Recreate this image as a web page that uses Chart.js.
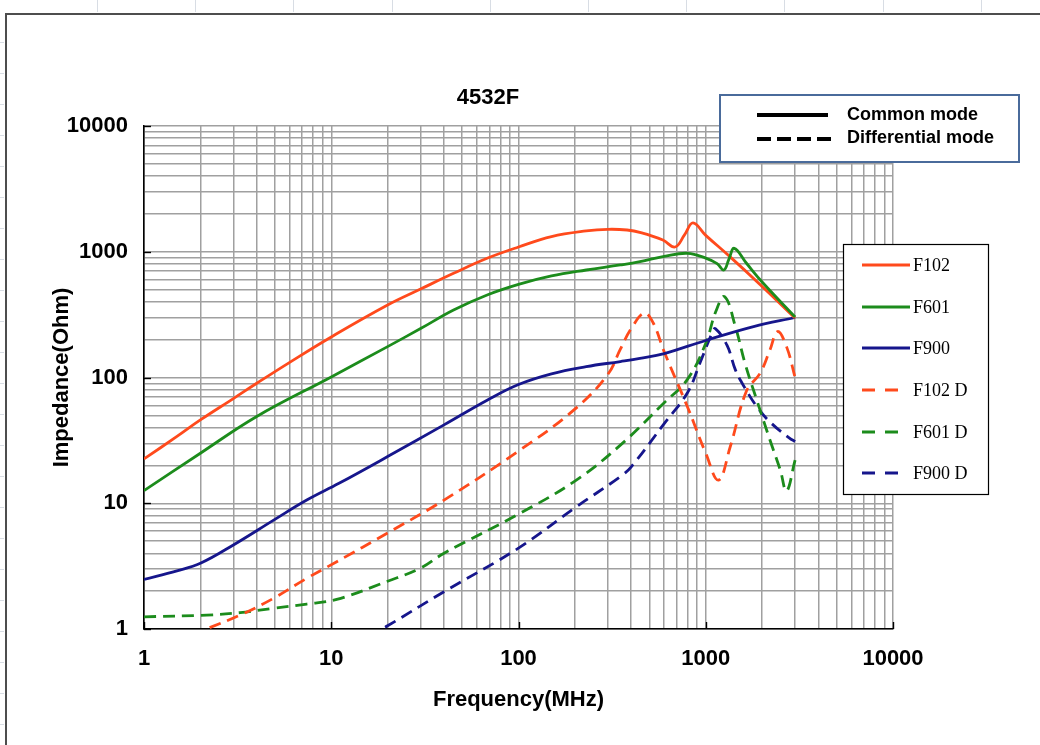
<!DOCTYPE html>
<html><head><meta charset="utf-8">
<script src="https://cdn.jsdelivr.net/npm/chart.js@4.4.0/dist/chart.umd.min.js"></script>
<style>html,body{margin:0;padding:0;background:#fff;overflow:hidden}canvas{display:block}</style>
</head><body>
<canvas id="c" width="1040" height="745"></canvas>
<script>
// ---- text ----
const chartTitle = '4532F';
const xAxisTitle = 'Frequency(MHz)';
const yAxisTitle = 'Impedance(Ohm)';
const modeLegend = ['Common mode', 'Differential mode'];
const seriesNames = ['F102', 'F601', 'F900', 'F102 D', 'F601 D', 'F900 D'];

// ---- tick labels (decades) ----
const xTickLabels = [1, 10, 100, 1000, 10000];
const yTickLabels = [1, 10, 100, 1000, 10000];
const minorSteps = [1, 2, 3, 4, 5, 6, 7, 8, 9];

// ---- series data (frequency in MHz, impedance in Ohm) ----
const f102Freq = [1, 1.5, 2, 3, 4, 6, 10, 20, 30, 45, 68, 100, 150, 230, 300, 380, 450, 590, 685, 770, 855, 1000, 1350, 2000, 3000];
const f102Z    = [22.5, 34, 46, 68, 90, 132, 210, 377, 505, 674, 887, 1090, 1318, 1463, 1508, 1489, 1420, 1240, 1091, 1360, 1694, 1350, 910, 530, 297];

const f601Freq = [1, 2, 4, 10, 20, 30, 45, 68, 100, 150, 230, 350, 445, 600, 800, 1000, 1150, 1250, 1330, 1420, 1650, 2000, 3000];
const f601Z    = [12.6, 25, 49, 101, 176, 245, 344, 453, 550, 642, 716, 785, 834, 920, 972, 890, 805, 716, 875, 1065, 810, 575, 303];

const f900Freq = [1, 1.5, 2, 3, 5, 7.4, 11, 20, 40, 68, 100, 150, 230, 350, 445, 600, 1000, 1800, 3000];
const f900Z    = [2.48, 2.9, 3.33, 4.66, 7.45, 10.6, 14.4, 23.5, 42, 66, 88, 107, 122, 134, 142, 155, 197, 254, 300];

const f102DFreq = [1.8, 2.15, 3.26, 4.9, 7.4, 10.7, 20, 40, 100, 200, 300, 350, 400, 470, 525, 600, 800, 1000, 1170, 1350, 1650, 1950, 2200, 2420, 2700, 3000];
const f102DZ    = [0.9, 1.0, 1.29, 1.75, 2.53, 3.43, 5.8, 10.6, 26, 56, 106, 168, 245, 325, 270, 160, 58, 25, 15.3, 28, 78, 108, 165, 232, 176, 100];

const f601DFreq = [1, 2.16, 3.26, 4.9, 7.4, 10.7, 20, 30, 40, 100, 200, 350, 600, 800, 1000, 1130, 1260, 1440, 1620, 1900, 2200, 2500, 2700, 3000];
const f601DZ    = [1.25, 1.29, 1.35, 1.46, 1.58, 1.72, 2.4, 3.05, 4.0, 8.2, 15, 29, 63, 97, 187, 333, 440, 254, 130, 62, 32, 18.4, 12.5, 22];

const f900DFreq = [16, 18.6, 20, 40, 100, 200, 350, 400, 600, 800, 930, 1080, 1125, 1300, 1440, 1600, 1900, 2250, 2800, 3000];
const f900DZ    = [0.85, 1.0, 1.06, 1.98, 4.4, 9.2, 16.3, 19.5, 43, 76, 130, 225, 245, 180, 115, 85, 57, 43, 33, 31];

const seriesColors = ['#FF4A1C', '#1C8C1C', '#16168C', '#FF4A1C', '#1C8C1C', '#16168C'];

// ---- helpers ----
const pairs = (fs, zs) => fs.map((f, i) => ({x: f, y: zs[i]}));
const gridValues = [];
xTickLabels.slice(0, -1).forEach(d => minorSteps.forEach(s => gridValues.push(d * s)));
gridValues.push(xTickLabels[xTickLabels.length - 1]);
const isDecade = v => Math.abs(Math.log10(v) - Math.round(Math.log10(v))) < 1e-9;

const SANS = 'Liberation Sans, Arial, sans-serif';
const SERIF = 'Liberation Serif, Times New Roman, serif';
const DASH = [12, 7];

function ds(idx, fs, zs, dashed, order) {
  return {
    label: seriesNames[idx],
    data: pairs(fs, zs),
    borderColor: seriesColors[idx],
    backgroundColor: seriesColors[idx],
    borderWidth: 2.8,
    borderDash: dashed ? DASH : [],
    borderJoinStyle: 'round',
    pointRadius: 0,
    tension: 0.4,
    fill: false,
    order: order
  };
}

const decorPlugin = {
  id: 'decor',
  beforeDraw(chart) {
    const c = chart.ctx;
    c.save();
    c.fillStyle = '#fff';
    c.fillRect(0, 0, chart.width, chart.height);
    // faint spreadsheet cells outside frame
    c.strokeStyle = '#d8dde4';
    c.lineWidth = 1;
    for (let x = 97; x < chart.width; x += 98.2) {
      c.beginPath(); c.moveTo(Math.round(x) + 0.5, 0); c.lineTo(Math.round(x) + 0.5, 12); c.stroke();
    }
    for (let y = 42; y < chart.height; y += 31) {
      c.beginPath(); c.moveTo(0, Math.round(y) + 0.5); c.lineTo(4, Math.round(y) + 0.5); c.stroke();
    }
    // frame
    c.strokeStyle = '#4d4d4d';
    c.lineWidth = 2;
    c.beginPath();
    c.moveTo(6, chart.height);
    c.lineTo(6, 14);
    c.lineTo(chart.width, 14);
    c.stroke();
    c.restore();
  },
  afterDraw(chart) {
    const c = chart.ctx;
    const xs = chart.scales.x, ys = chart.scales.y;
    const ca = chart.chartArea;
    c.save();
    // inward tick marks at decades
    c.strokeStyle = '#000';
    c.lineWidth = 1.4;
    xTickLabels.forEach(v => {
      const px = Math.round(xs.getPixelForValue(v)) + 0.5;
      c.beginPath(); c.moveTo(px, ca.bottom); c.lineTo(px, ca.bottom - 7); c.stroke();
    });
    yTickLabels.forEach(v => {
      const py = Math.round(ys.getPixelForValue(v)) + 0.5;
      c.beginPath(); c.moveTo(ca.left, py); c.lineTo(ca.left + 7, py); c.stroke();
    });
    // title
    c.fillStyle = '#000';
    c.font = 'bold 22px ' + SANS;
    c.textAlign = 'center';
    c.textBaseline = 'middle';
    c.fillText(chartTitle, 488, 98);

    // mode legend
    c.fillStyle = '#fff';
    c.fillRect(720, 95, 299, 67);
    c.strokeStyle = '#4a6b9b';
    c.lineWidth = 2;
    c.strokeRect(720, 95, 299, 67);
    c.strokeStyle = '#000';
    c.lineWidth = 4;
    c.lineCap = 'butt';
    c.beginPath(); c.moveTo(757, 115); c.lineTo(828, 115); c.stroke();
    c.setLineDash([14, 6]);
    c.beginPath(); c.moveTo(757, 139); c.lineTo(831, 139); c.stroke();
    c.setLineDash([]);
    c.fillStyle = '#000';
    c.font = 'bold 18px ' + SANS;
    c.textAlign = 'left';
    c.fillText(modeLegend[0], 847, 115);
    c.fillText(modeLegend[1], 847, 138);

    // series legend
    c.fillStyle = '#fff';
    c.fillRect(843, 244, 146, 251);
    c.strokeStyle = '#000';
    c.lineWidth = 1.2;
    c.strokeRect(843.5, 244.5, 145, 250);
    const rows = [265, 307, 348, 390, 432, 473];
    c.font = '18px ' + SERIF;
    rows.forEach((y, i) => {
      c.strokeStyle = seriesColors[i];
      c.lineWidth = 2.8;
      if (i >= 3) {
        c.setLineDash([13, 10]);
        c.beginPath(); c.moveTo(862, y); c.lineTo(898, y); c.stroke();
        c.setLineDash([]);
      } else {
        c.beginPath(); c.moveTo(862, y); c.lineTo(910, y); c.stroke();
      }
      c.fillStyle = '#000';
      c.fillText(seriesNames[i], 913, y + 1);
    });
    c.restore();
  }
};

const tickFont = {family: SANS, size: 22, weight: 'bold'};

new Chart(document.getElementById('c'), {
  type: 'line',
  data: {
    datasets: [
      ds(0, f102Freq, f102Z, false, 1),
      ds(1, f601Freq, f601Z, false, 0),
      ds(2, f900Freq, f900Z, false, 2),
      ds(3, f102DFreq, f102DZ, true, 3),
      ds(4, f601DFreq, f601DZ, true, 4),
      ds(5, f900DFreq, f900DZ, true, 5)
    ]
  },
  options: {
    responsive: false,
    animation: false,
    devicePixelRatio: 1,
    layout: {padding: {left: 0, top: 126, right: 147, bottom: 0}},
    plugins: {legend: {display: false}, title: {display: false}, tooltip: {enabled: false}},
    scales: {
      x: {
        type: 'logarithmic', min: 1, max: 10000, position: 'bottom',
        afterBuildTicks: s => { s.ticks = gridValues.map(v => ({value: v, major: isDecade(v)})); },
        afterFit: s => { s.height = 116; },
        grid: {color: '#a0a0a0', lineWidth: 1.5, drawTicks: false},
        border: {color: '#000', width: 1.6},
        ticks: {autoSkip: false, maxRotation: 0, padding: 17, color: '#000', font: tickFont,
          callback: v => isDecade(v) ? String(Math.round(v)) : ''},
        title: {display: true, text: xAxisTitle, color: '#000', font: tickFont, padding: {top: 0, bottom: 32}}
      },
      y: {
        type: 'logarithmic', min: 1, max: 10000, position: 'left',
        afterBuildTicks: s => { s.ticks = gridValues.map(v => ({value: v, major: isDecade(v)})); },
        afterFit: s => { s.width = 144; },
        grid: {color: '#a0a0a0', lineWidth: 1.5, drawTicks: false},
        border: {color: '#000', width: 1.6},
        ticks: {autoSkip: false, padding: 16, color: '#000', font: tickFont,
          callback: v => isDecade(v) ? String(Math.round(v)) : ''},
        title: {display: true, text: yAxisTitle, color: '#000', font: tickFont, padding: {top: 49, bottom: 0}}
      }
    }
  },
  plugins: [decorPlugin]
});
</script>
</body></html>
